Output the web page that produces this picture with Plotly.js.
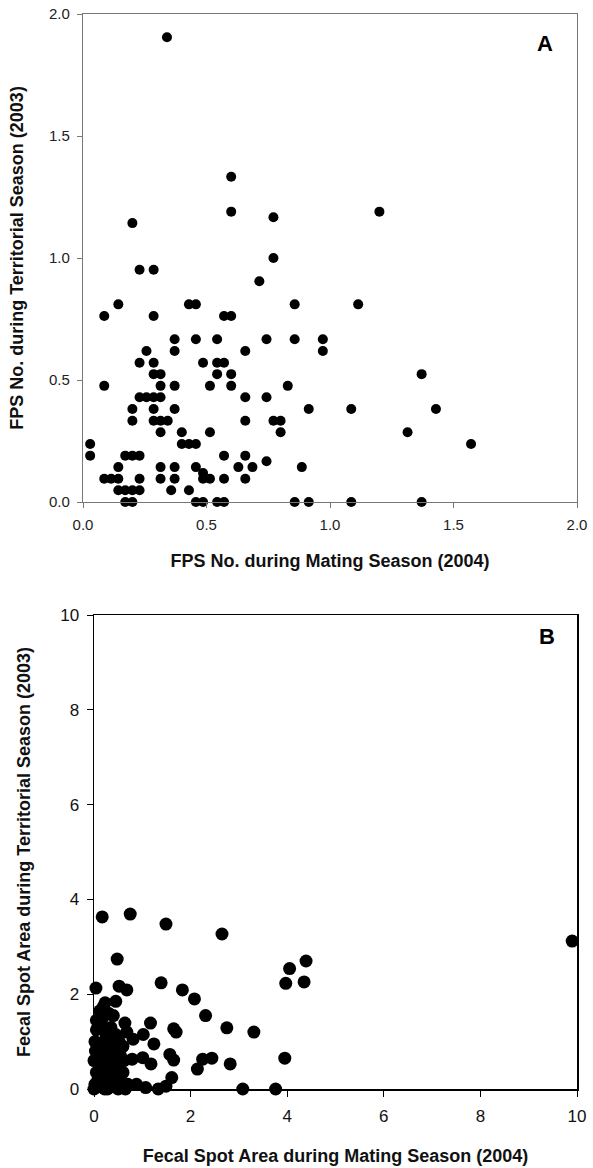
<!DOCTYPE html>
<html>
<head>
<meta charset="utf-8">
<script src="https://cdn.plot.ly/plotly-3.0.1.min.js"></script>
<style>html,body{margin:0;padding:0;background:#fff;}#chart{width:593px;height:1168px;}</style>
</head>
<body>
<div id="chart"></div>
<script>
// Panel A: FPS number (mating 2004 vs territorial 2003)
const fpsMating = [
 0.34,0.60,0.60,0.20,0.771,0.771,1.20,0.229,0.286,0.714,
 0.143,0.086,0.286,0.429,0.457,0.857,1.114,0.571,0.60,0.371,
 0.457,0.543,0.743,0.857,0.971,0.257,0.371,0.657,0.971,0.229,
 0.286,0.486,0.543,0.571,0.286,0.314,0.543,0.60,1.371,0.086,
 0.314,0.371,0.514,0.60,0.829,0.229,0.257,0.286,0.314,0.657,
 0.743,0.20,0.286,0.371,0.914,1.086,1.429,0.20,0.286,0.314,
 0.343,0.657,0.771,0.80,0.314,0.40,0.514,0.80,1.314,0.029,
 0.40,0.429,0.457,1.571,0.029,0.171,0.20,0.229,0.571,0.657,
 0.743,0.143,0.314,0.371,0.457,0.629,0.686,0.886,0.486,0.086,
 0.114,0.143,0.229,0.314,0.371,0.486,0.514,0.571,0.657,0.143,
 0.171,0.20,0.229,0.357,0.429,0.171,0.20,0.457,0.486,0.543,
 0.571,0.857,0.914,1.086,1.371
];
const fpsTerritorial = [
 1.905,1.333,1.19,1.143,1.167,1.0,1.19,0.952,0.952,0.905,
 0.81,0.762,0.762,0.81,0.81,0.81,0.81,0.762,0.762,0.667,
 0.667,0.667,0.667,0.667,0.667,0.619,0.619,0.619,0.619,0.571,
 0.571,0.571,0.571,0.571,0.524,0.524,0.524,0.524,0.524,0.476,
 0.476,0.476,0.476,0.476,0.476,0.429,0.429,0.429,0.429,0.429,
 0.429,0.381,0.381,0.381,0.381,0.381,0.381,0.333,0.333,0.333,
 0.333,0.333,0.333,0.333,0.286,0.286,0.286,0.286,0.286,0.238,
 0.238,0.238,0.238,0.238,0.19,0.19,0.19,0.19,0.19,0.19,
 0.167,0.143,0.143,0.143,0.143,0.143,0.143,0.143,0.119,0.095,
 0.095,0.095,0.095,0.095,0.095,0.095,0.095,0.095,0.095,0.048,
 0.048,0.048,0.048,0.048,0.048,0,0,0,0,0,
 0,0,0,0,0
];

// Panel B: fecal spot area (mating 2004 vs territorial 2003)
const areaMating = [
 0.17,0.75,1.49,2.65,0.48,0.04,0.52,0.68,1.39,1.83,
 2.08,2.31,2.75,3.31,1.17,1.65,1.70,1.24,1.57,1.65,
 3.95,2.14,2.25,2.44,2.82,1.61,3.08,3.76,1.07,1.33,
 1.49,0.88,0.45,0.23,0.64,1.02,0.81,1.01,1.18,0.79,
 3.97,4.05,4.39,4.35,9.9,
 0.0,0.02,0.05,0.0,0.03,0.02,0.05,0.08,0.10,0.12,
 0.10,0.12,0.15,0.18,0.20,0.22,0.20,0.25,0.22,0.25,
 0.30,0.32,0.35,0.30,0.38,0.35,0.40,0.42,0.45,0.40,
 0.48,0.45,0.50,0.50,0.55,0.52,0.58,0.60,0.62,0.60,
 0.65,0.70,0.68,0.05,0.15,0.28,0.12
];
const areaTerritorial = [
 3.63,3.69,3.48,3.27,2.74,2.13,2.17,2.09,2.24,2.09,
 1.90,1.55,1.29,1.20,1.39,1.27,1.20,0.95,0.73,0.61,
 0.65,0.42,0.63,0.65,0.53,0.24,0.0,0.0,0.03,0.0,
 0.06,0.10,1.85,1.82,1.39,1.15,1.05,0.66,0.53,0.63,
 2.23,2.54,2.70,2.26,3.12,
 0.0,0.10,0.35,0.60,0.80,1.00,1.25,0.20,0.05,0.45,
 0.70,0.95,1.30,1.50,1.75,0.0,0.30,0.55,0.85,1.10,
 1.60,0.15,0.40,0.70,0.95,1.30,1.55,0.05,0.25,0.60,
 0.85,1.15,0.0,0.45,0.70,1.00,0.15,0.35,0.60,0.90,
 0.0,0.10,1.20,1.45,0.15,0.0,1.65
];

const tickA = [0, 0.5, 1.0, 1.5, 2.0];
const tickALabels = ['0.0','0.5','1.0','1.5','2.0'];
const tickB = [0, 2, 4, 6, 8, 10];
const tickBLabels = ['0','2','4','6','8','10'];

const W = 593, H = 1168;
const FONT = 'Liberation Sans, Arial, sans-serif';

const traces = [
  {x: fpsMating, y: fpsTerritorial, type: 'scatter', mode: 'markers',
   xaxis: 'x', yaxis: 'y', cliponaxis: false,
   marker: {color: '#000', size: 10, line: {width: 0}}},
  {x: areaMating, y: areaTerritorial, type: 'scatter', mode: 'markers',
   xaxis: 'x2', yaxis: 'y2', cliponaxis: false,
   marker: {color: '#000', size: 13, line: {width: 0}}}
];

const axBase = {
  showgrid: false, zeroline: false, showline: true, mirror: true,
  ticks: 'outside'
};
const fontA = {family: FONT, size: 15, color: '#222'};
const fontB = {family: FONT, size: 17, color: '#111'};

const layout = {
  width: W, height: H,
  margin: {l: 0, r: 0, t: 0, b: 0},
  paper_bgcolor: '#fff', plot_bgcolor: '#fff',
  showlegend: false,
  xaxis: Object.assign({}, axBase, {
    domain: [83/W, 577/W], range: [0, 2], anchor: 'y',
    tickvals: tickA, ticktext: tickALabels, tickfont: fontA, ticklabelstandoff: 4,
    linecolor: '#777', linewidth: 1.2, tickcolor: '#777', ticklen: 5,
    title: {text: 'FPS No. during Mating Season (2004)', standoff: 22,
            font: {family: FONT, size: 18, color: '#111', weight: 'bold'}}
  }),
  yaxis: Object.assign({}, axBase, {
    domain: [1 - 502/H, 1 - 14/H], range: [0, 2], anchor: 'x',
    tickvals: tickA, ticktext: tickALabels, tickfont: fontA, ticklabelstandoff: 4,
    linecolor: '#777', linewidth: 1.2, tickcolor: '#777', ticklen: 5,
    title: {text: 'FPS No. during Territorial Season (2003)', standoff: 20,
            font: {family: FONT, size: 18, color: '#111', weight: 'bold'}}
  }),
  xaxis2: Object.assign({}, axBase, {
    domain: [94/W, 577/W], range: [0, 10], anchor: 'y2',
    tickvals: tickB, ticktext: tickBLabels, tickfont: fontB, ticklabelstandoff: 5,
    linecolor: '#000', linewidth: 1.5, tickcolor: '#000', ticklen: 6,
    title: {text: 'Fecal Spot Area during Mating Season (2004)', standoff: 24,
            font: {family: FONT, size: 18, color: '#111', weight: 'bold'}}
  }),
  yaxis2: Object.assign({}, axBase, {
    domain: [1 - 1089/H, 1 - 615/H], range: [0, 10], anchor: 'x2',
    tickvals: tickB, ticktext: tickBLabels, tickfont: fontB, ticklabelstandoff: 4,
    linecolor: '#000', linewidth: 1.5, tickcolor: '#000', ticklen: 6,
    title: {text: 'Fecal Spot Area during Territorial Season (2003)', standoff: 25,
            font: {family: FONT, size: 18, color: '#111', weight: 'bold'}}
  }),
  annotations: [
    {text: 'A', xref: 'x domain', yref: 'y domain', x: 0.935, y: 0.94,
     xanchor: 'center', yanchor: 'middle', showarrow: false,
     font: {family: FONT, size: 22, color: '#000', weight: 'bold'}},
    {text: 'B', xref: 'x2 domain', yref: 'y2 domain', x: 0.938, y: 0.954,
     xanchor: 'center', yanchor: 'middle', showarrow: false,
     font: {family: FONT, size: 22, color: '#000', weight: 'bold'}}
  ]
};

Plotly.newPlot('chart', traces, layout, {displayModeBar: false, staticPlot: true});
</script>
</body>
</html>
